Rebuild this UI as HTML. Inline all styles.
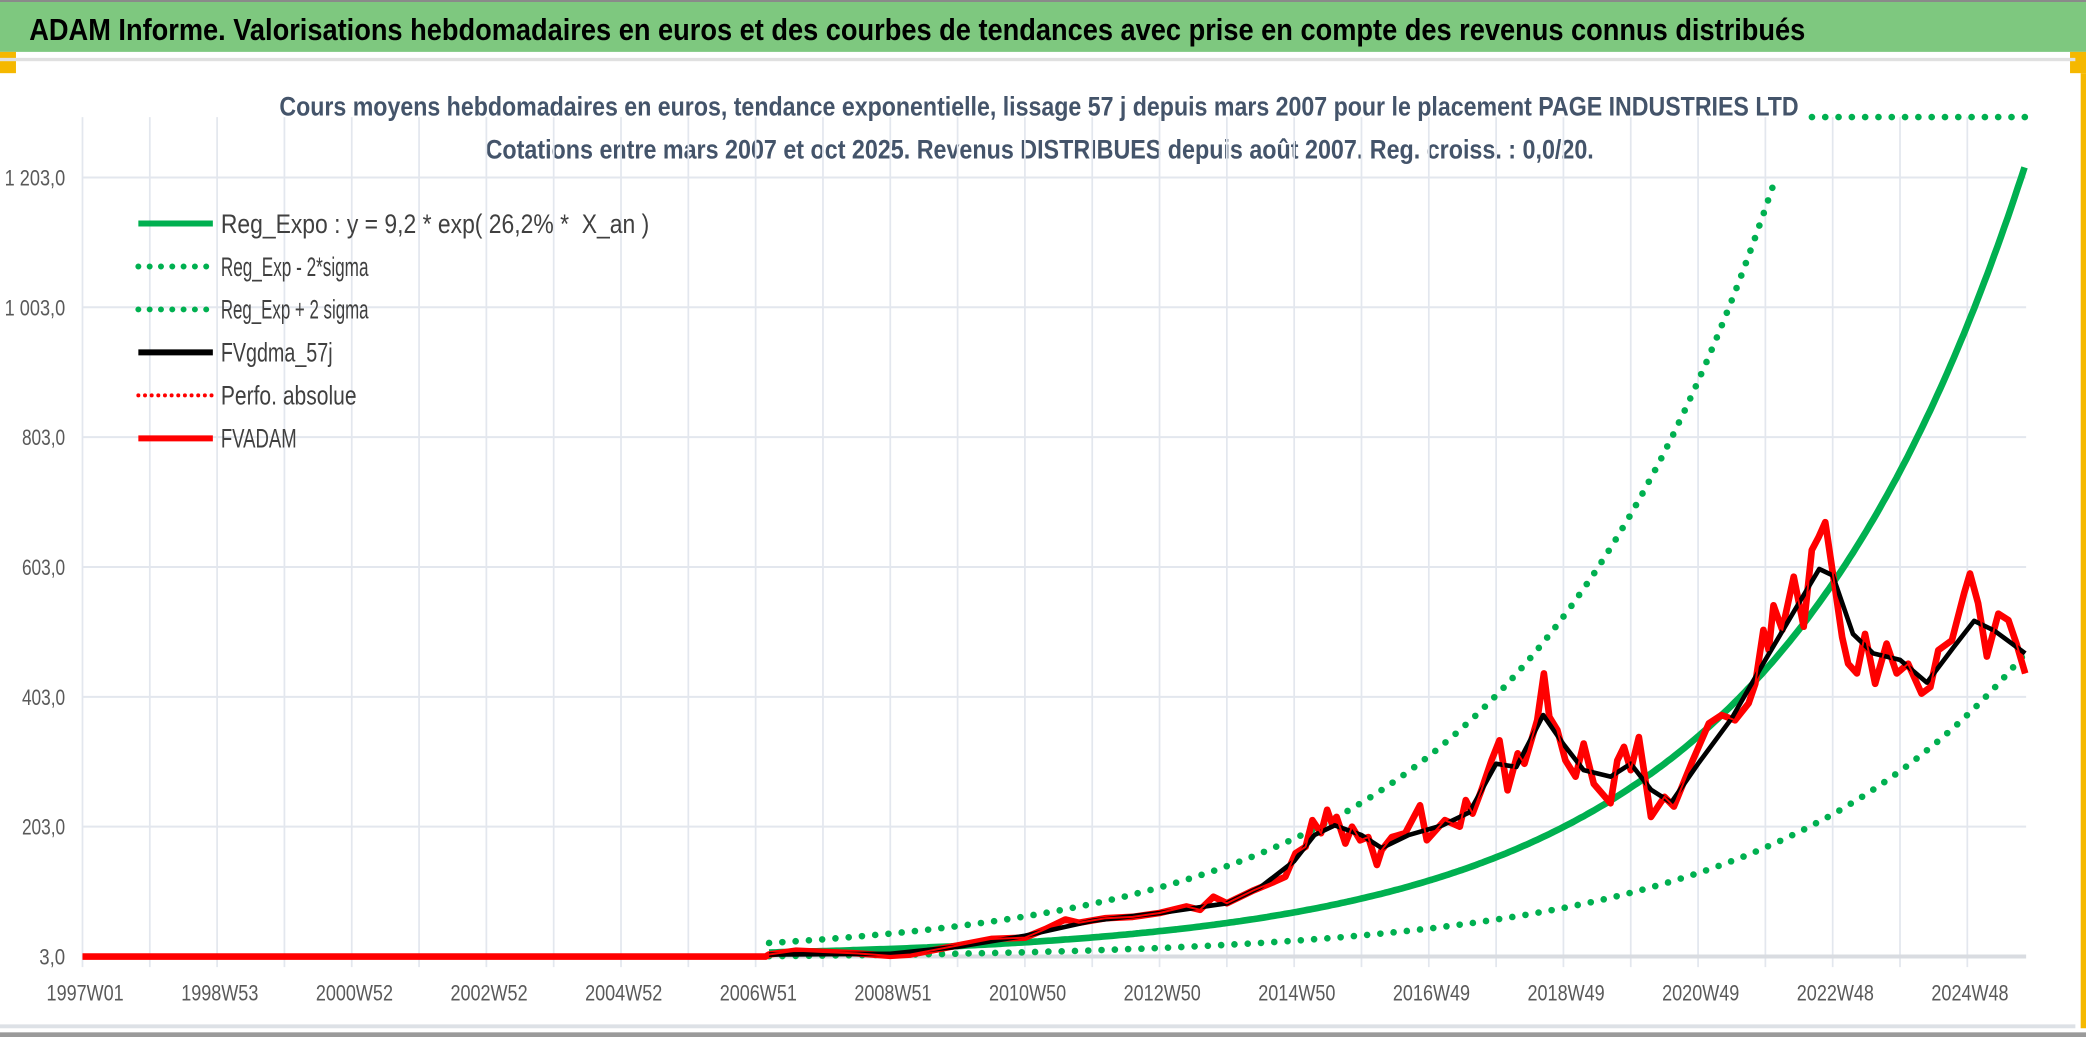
<!DOCTYPE html>
<html><head><meta charset="utf-8"><style>
html,body{margin:0;padding:0;background:#fff;overflow:hidden}
svg{display:block}
text{font-family:"Liberation Sans Narrow","Liberation Sans",sans-serif}
</style></head><body>
<svg id="chart" width="2086" height="1037" viewBox="0 0 1568 779.5" preserveAspectRatio="none" xmlns="http://www.w3.org/2000/svg">
<rect x="0" y="0" width="1568" height="779.5" fill="#fff"/>
<rect x="0" y="0" width="1568" height="39" fill="#7ec87f"/>
<rect x="0" y="0" width="1568" height="1.5" fill="#8a8a8a"/>
<text x="22" y="30" font-size="23" font-weight="bold" fill="#000" textLength="1335" lengthAdjust="spacingAndGlyphs">ADAM Informe. Valorisations hebdomadaires en euros et des courbes de tendances avec prise en compte des revenus connus distribués</text>
<rect x="0" y="39" width="12" height="16" fill="#f5b800"/>
<rect x="1556" y="39" width="12" height="16" fill="#f5b800"/>
<rect x="1564" y="55" width="4" height="718" fill="#f5b800"/>
<rect x="0" y="43.5" width="1560" height="2.5" fill="#e0e0e0"/>
<rect x="0" y="770" width="1560" height="3" fill="#dde1e6"/>
<rect x="0" y="773" width="1568" height="6.5" fill="#fff"/>
<rect x="0" y="776" width="1568" height="3.5" fill="#9a9a9a"/>
<text x="210" y="87" font-size="20" font-weight="bold" fill="#44546a" textLength="1142" lengthAdjust="spacingAndGlyphs">Cours moyens hebdomadaires en euros, tendance exponentielle, lissage 57 j depuis mars 2007 pour le placement PAGE INDUSTRIES LTD</text>
<text x="365" y="119" font-size="20" font-weight="bold" fill="#44546a" textLength="833" lengthAdjust="spacingAndGlyphs">Cotations entre mars 2007 et oct 2025. Revenus DISTRIBUES depuis août 2007. Reg. croiss. : 0,0/20.</text>
<g id="grid"></g>
<g id="axes"></g>
<g id="series"></g>
<g id="legend"></g>
</svg>
<script>
// ---- data ----
const yTicks = [3, 203, 403, 603, 803, 1003, 1203];
const yTickLabels = ["3,0", "203,0", "403,0", "603,0", "803,0", "1 003,0", "1 203,0"];
const xTickYears = [1997, 1999, 2001, 2003, 2005, 2007, 2009, 2011, 2013, 2015, 2017, 2019, 2021, 2023, 2025];
const xTickLabels = ["1997W01","1998W53","2000W52","2002W52","2004W52","2006W51","2008W51","2010W50","2012W50","2014W50","2016W49","2018W49","2020W49","2022W48","2024W48"];
const regA = 9.2, regRate = 0.262, regStart = 2007.2, regEnd = 2025.85, sigmaFactor = 2.6;
const fvDates = [1997,2007.15,2007.2,2007.6,2008.0,2008.5,2009.0,2009.3,2009.7,2010.0,2010.5,2011.0,2011.3,2011.6,2011.8,2012.2,2012.6,2013.0,2013.4,2013.6,2013.8,2014.0,2014.4,2014.7,
2014.87,2015.02,2015.17,2015.27,2015.4,2015.49,2015.56,2015.63,2015.76,2015.86,2015.98,2016.1,2016.23,2016.3,2016.45,2016.65,2016.87,2016.97,2017.24,2017.46,2017.55,2017.65,2017.78,2017.93,2018.05,2018.17,2018.32,2018.42,2018.61,2018.71,2018.79,2018.91,2019.03,2019.18,2019.3,2019.45,2019.7,2019.8,2019.9,2020.0,2020.12,2020.3,2020.5,2020.64,
2020.9,2021.16,2021.35,2021.55,2021.75,2021.85,2021.97,2022.05,2022.12,2022.25,2022.42,2022.57,2022.69,2022.79,2022.89,2023.04,2023.14,2023.23,2023.36,2023.48,2023.63,2023.8,2023.95,2024.12,2024.32,2024.45,2024.57,2024.77,2024.95,2025.04,2025.16,2025.29,2025.46,2025.61,2025.73,2025.86];
const fvValues = [3,3,6,12,10,8,4,6,14,20,30,32,45,60,55,62,64,70,80,75,95,85,105,118,
126,162,172,213,193,229,208,218,177,203,182,187,144,167,187,193,236,182,213,203,244,223,259,305,336,259,316,300,367,439,372,352,305,280,331,269,239,305,326,290,341,218,249,234,
300,362,375,367,393,423,506,475,544,506,588,511,629,649,672,567,495,454,439,500,423,485,439,454,408,418,475,490,562,593,547,465,531,521,485,439];
const smDates = [2007.2,2009,2010,2011,2012,2013,2014,2014.5,2015.0,2015.3,2015.6,2016,2016.3,2016.7,2017.2,2017.6,2018.0,2018.3,2018.7,2019.0,2019.3,2019.7,2020.0,2020.3,2020.6,2021.0,2021.5,2022.0,2022.4,2022.8,2023.0,2023.3,2023.6,2024.0,2024.4,2024.8,2025.1,2025.4,2025.86];
const smValues = [6,7,18,35,58,70,85,110,150,190,205,190,170,190,205,225,300,295,375,330,290,280,300,260,240,300,370,460,530,600,590,500,470,460,425,480,520,505,470];

// ---- axes ----
const X0 = 62, PX_PER_YEAR = 50.6, Y0 = 719, PX_PER_UNIT = 97.6/200;
const xs = d => X0 + (d - 1997) * PX_PER_YEAR;
const ys = v => Y0 - (v - 3) * PX_PER_UNIT;
const NS = "http://www.w3.org/2000/svg";
function mk(tag, parent){ const e=document.createElementNS(NS,tag); parent.appendChild(e); return e; }
const grid=document.getElementById('grid'), axes=document.getElementById('axes'), series=document.getElementById('series'), legend=document.getElementById('legend');

for(let yr=1997; yr<=2025; yr++){
  const l=mk('line',grid);
  
  
  l.setAttribute('x1',xs(yr));l.setAttribute('x2',xs(yr));l.setAttribute('y1',88);l.setAttribute('y2',727);
  l.setAttribute('stroke','#e3e7ee');l.setAttribute('stroke-width','1.3');
}
yTicks.forEach((v,i)=>{
  const l=mk('line',grid);
  
  
  l.setAttribute('x1',X0);l.setAttribute('x2',1523);l.setAttribute('y1',ys(v));l.setAttribute('y2',ys(v));
  l.setAttribute('stroke',i===0?'#d9dce1':'#e3e7ee');l.setAttribute('stroke-width',i===0?'3':'1.5');
  const t=mk('text',axes);
  
  
  t.setAttribute('x',49);t.setAttribute('y',ys(v)+6);t.setAttribute('text-anchor','end');
  t.setAttribute('font-size','17');t.setAttribute('fill','#595959');
  t.setAttribute('textLength',(yTickLabels[i].length*6.5).toFixed(1));t.setAttribute('lengthAdjust','spacingAndGlyphs');
  t.textContent=yTickLabels[i];
});
xTickYears.forEach((yr,i)=>{
  const t=mk('text',axes);
  
  
  t.setAttribute('x',xs(yr)+2);t.setAttribute('y',752);t.setAttribute('text-anchor','middle');
  t.setAttribute('font-size','17');t.setAttribute('fill','#595959');
  t.setAttribute('textLength','58');t.setAttribute('lengthAdjust','spacingAndGlyphs');
  t.textContent=xTickLabels[i];
});

function path(pts, color, w, dash, name){
  const p=mk('path',series);
  
  
  p.setAttribute('d','M'+pts.map(q=>q[0].toFixed(1)+','+q[1].toFixed(1)).join('L'));
  p.setAttribute('fill','none');p.setAttribute('stroke',color);p.setAttribute('stroke-width',w);
  p.setAttribute('stroke-linejoin','round');
  if(dash){p.setAttribute('stroke-dasharray',dash);p.setAttribute('stroke-linecap','round');}
  return p;
}
const reg = d => regA*Math.exp(regRate*(d-regStart));
const cen=[], up=[], lo=[];
for(let d=regStart; d<=regEnd+1e-9; d+=0.05){
  cen.push([xs(d),ys(reg(d))]);
  if(reg(d)*sigmaFactor<=1215) up.push([xs(d),ys(reg(d)*sigmaFactor)]);
  lo.push([xs(d),ys(Math.max(3,reg(d)/sigmaFactor))]);
}
path(up,'#00b050',5,'0 10','reg-exp-plus-2-sigma-line');
path([[1362,88],[1523,88]],'#00b050',5,'0 10','reg-exp-upper-offscale-line');
path(lo,'#00b050',5,'0 10','reg-exp-minus-2-sigma-line');
path(cen,'#00b050',5,null,'reg-expo-line');
path(fvDates.map((d,i)=>[xs(d),ys(fvValues[i])]),'#ff0000',5,null,'fvadam-line');
path(smDates.map((d,i)=>[xs(d),ys(smValues[i])]),'#000000',3.5,null,'fvgdma-57j-line');
path(fvDates.map((d,i)=>[xs(d),ys(fvValues[i])]),'#ff0000',1.5,null,'perfo-absolue-line');

const legItems=[
 ['Reg_Expo : y = 9,2 * exp( 26,2% *  X_an )','#00b050',null,'legend-reg-expo',322],
 ['Reg_Exp - 2*sigma','#00b050','0 8.5','legend-reg-exp-minus',111],
 ['Reg_Exp + 2 sigma','#00b050','0 8.5','legend-reg-exp-plus',111],
 ['FVgdma_57j','#000',null,'legend-fvgdma',84],
 ['Perfo. absolue','#ff0000','0 5','legend-perfo-absolue',102],
 ['FVADAM','#ff0000',null,'legend-fvadam',57]];
legItems.forEach((it,i)=>{
  const y=168+i*32.3;
  const g=mk('g',legend);
  
  
  const l=mk('line',g);
  l.setAttribute('x1',104);l.setAttribute('x2',160);l.setAttribute('y1',y);l.setAttribute('y2',y);
  l.setAttribute('stroke',it[1]);l.setAttribute('stroke-width',it[2]&&i===4?3:4.5);
  if(it[2]){l.setAttribute('stroke-dasharray',it[2]);l.setAttribute('stroke-linecap','round');}
  const t=mk('text',g);
  t.setAttribute('x',166);t.setAttribute('y',y+7);t.setAttribute('font-size','20');t.setAttribute('fill','#404040');
  t.setAttribute('xml:space','preserve');t.style.whiteSpace='pre';
  t.setAttribute('textLength',it[4]);t.setAttribute('lengthAdjust','spacingAndGlyphs');
  t.textContent=it[0];
});
</script>
</body></html>
